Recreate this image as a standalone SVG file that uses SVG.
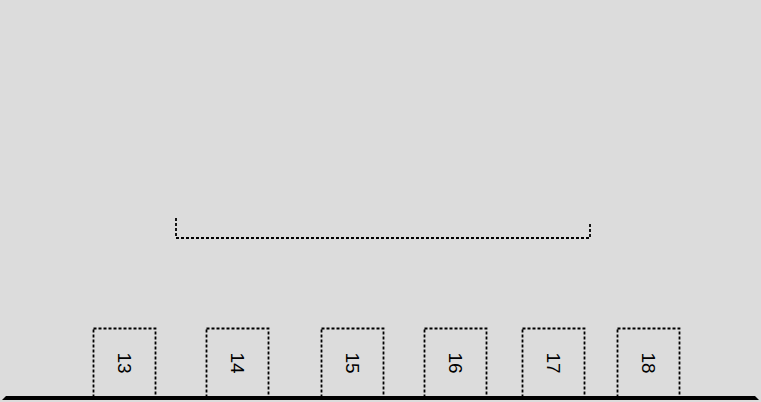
<svg xmlns="http://www.w3.org/2000/svg" width="761" height="402" viewBox="0 0 761 402">
<style>
.box{fill:none;stroke:#000;stroke-width:1.8;stroke-dasharray:3 2}
.lbl{font-family:"Liberation Sans",Arial,sans-serif;font-size:19px;fill:#000;text-anchor:middle;dominant-baseline:central}
</style>
<rect width="761" height="402" fill="#dcdcdc"/>
<g id="connectors">
<path class="box" d="M176 218 V238 H590 V222"/>
</g>
<g id="n13"><rect class="box" x="93.5" y="328.5" width="62" height="70"/><text class="lbl" transform="translate(124.5,363) rotate(90)">13</text></g>
<g id="n14"><rect class="box" x="206.5" y="328.5" width="62" height="70"/><text class="lbl" transform="translate(237.5,363) rotate(90)">14</text></g>
<g id="n15"><rect class="box" x="321.5" y="328.5" width="62" height="70"/><text class="lbl" transform="translate(352.5,363) rotate(90)">15</text></g>
<g id="n16"><rect class="box" x="424.5" y="328.5" width="62" height="70"/><text class="lbl" transform="translate(455.5,363) rotate(90)">16</text></g>
<g id="n17"><rect class="box" x="522.5" y="328.5" width="62" height="70"/><text class="lbl" transform="translate(553.5,363) rotate(90)">17</text></g>
<g id="n18"><rect class="box" x="617.5" y="328.5" width="62" height="70"/><text class="lbl" transform="translate(648.5,363) rotate(90)">18</text></g>
<g id="ground"><polygon points="6,396 755,396 759,400 2,400" fill="#000"/></g>
</svg>
